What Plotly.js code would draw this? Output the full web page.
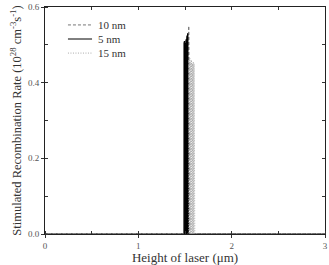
<!DOCTYPE html>
<html>
<head>
<meta charset="utf-8">
<script src="https://cdn.plot.ly/plotly-3.0.1.min.js"></script>
<style>html,body{margin:0;padding:0;background:#fff;}#chart{width:329px;height:265px;}</style>
</head>
<body>
<div id="chart"></div>
<script>
// Series: 10 nm (dashed), 5 nm (solid), 15 nm (dotted)
const x10 = [0, 1.505, 1.507, 1.512, 1.515, 1.520, 1.523, 1.528, 1.531, 1.535, 1.540, 1.544, 1.547, 1.551, 1.553, 3];
const y10 = [0, 0, 0.50, 0, 0.51, 0, 0.52, 0, 0.53, 0, 0.55, 0, 0.54, 0, 0, 0];
const x5 = [0, 1.488, 1.489, 1.492, 1.494, 1.497, 1.499, 1.502, 1.504, 1.507, 1.509, 1.512, 1.514, 1.517, 1.519, 1.522, 1.524, 1.527, 1.529, 1.532, 1.534, 1.537, 3];
const y5 = [0, 0, 0.505, 0, 0.51, 0, 0.50, 0, 0.505, 0, 0.51, 0, 0.515, 0, 0.52, 0, 0.525, 0, 0.53, 0, 0.525, 0, 0];
const x15 = [0, 1.540, 1.543, 1.548, 1.552, 1.557, 1.561, 1.566, 1.570, 1.575, 1.579, 1.584, 1.588, 1.593, 1.597, 1.602, 1.605, 3];
const y15 = [0, 0, 0.46, 0, 0.465, 0, 0.455, 0, 0.46, 0, 0.45, 0, 0.455, 0, 0.45, 0, 0, 0];
const names = ["10 nm", "5 nm", "15 nm"];
const xTicks = [0, 1, 2, 3];
const yTicks = [0.0, 0.2, 0.4, 0.6];

const serif = "Liberation Serif, Times New Roman, serif";
const styles = [
  {color: "#777", width: 1, dash: "3px,2px"},
  {color: "#000", width: 1, dash: "solid"},
  {color: "#aaa", width: 1, dash: "1px,1.5px"}
];
const traces = [
  {x: x10, y: y10, name: names[0], mode: "lines", line: styles[0]},
  {x: x5, y: y5, name: names[1], mode: "lines", line: styles[1]},
  {x: x15, y: y15, name: names[2], mode: "lines", line: styles[2]},
  {x: [0, 3], y: [0, 0], xaxis: "x2", yaxis: "y2", mode: "lines", line: {width: 0}, showlegend: false, hoverinfo: "skip"}
];

// compact legend (lines + labels) in the upper-left of the plot area
const legY = [0.921, 0.859, 0.797];
const shapes = names.map((n, i) => ({type: "line", xref: "paper", yref: "paper",
  x0: 0.082, x1: 0.168, y0: legY[i], y1: legY[i], line: styles[i]}));
const annotations = names.map((n, i) => ({xref: "paper", yref: "paper", x: 0.183, y: legY[i],
  xanchor: "left", yanchor: "middle", showarrow: false, text: n,
  font: {family: serif, size: 11, color: "#333"}}));

const layout = {
  width: 329, height: 265,
  margin: {l: 45, r: 4, t: 7, b: 31},
  paper_bgcolor: "#fff", plot_bgcolor: "#fff",
  font: {family: serif, color: "#333"},
  showlegend: false,
  shapes: shapes, annotations: annotations,
  xaxis: {range: [0, 3], tickvals: xTicks, ticktext: xTicks.map(String), ticks: "outside", ticklen: 3,
          tickcolor: "#333", showline: true, linecolor: "#222", linewidth: 1, zeroline: false, showgrid: false,
          minor: {ticks: "inside", dtick: 0.5, ticklen: 3, tickcolor: "#333"},
          tickfont: {family: serif, size: 9, color: "#555"},
          title: {text: "Height of laser (μm)", font: {family: serif, size: 13, color: "#333"}, standoff: 2}},
  yaxis: {range: [0, 0.6], tickvals: yTicks, ticktext: yTicks.map(v => v.toFixed(1)), ticks: "outside", ticklen: 3,
          tickcolor: "#333", showline: true, linecolor: "#222", linewidth: 1, zeroline: false, showgrid: false,
          minor: {ticks: "inside", dtick: 0.1, ticklen: 3, tickcolor: "#333"},
          tickfont: {family: serif, size: 9, color: "#555"},
          title: {text: "Stimulated Recombination Rate (10<sup>28</sup> cm<sup>-3</sup>s<sup>-1</sup>)", font: {family: serif, size: 12.5, color: "#333"}, standoff: 3}},
  xaxis2: {overlaying: "x", side: "top", range: [0, 3], dtick: 0.5, ticks: "inside", ticklen: 3, tickcolor: "#333",
           showticklabels: false, showline: true, linecolor: "#222", linewidth: 1, showgrid: false, zeroline: false},
  yaxis2: {overlaying: "y", side: "right", range: [0, 0.6], dtick: 0.1, ticks: "inside", ticklen: 3, tickcolor: "#333",
           showticklabels: false, showline: true, linecolor: "#222", linewidth: 1, showgrid: false, zeroline: false}
};
Plotly.newPlot("chart", traces, layout, {staticPlot: true, displayModeBar: false});
</script>
</body>
</html>
